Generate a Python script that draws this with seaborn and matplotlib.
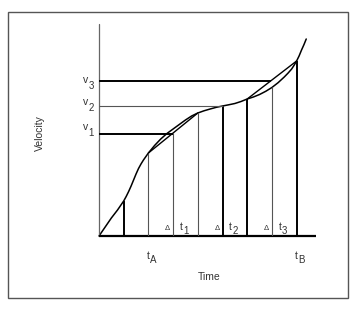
import matplotlib
matplotlib.use("Agg")
import matplotlib.pyplot as plt
import seaborn as sns
import pandas as pd
from matplotlib.patches import Rectangle

# ---- data ----
curve_x = [0, 0.25, 0.5, 0.75, 1.0, 1.1, 1.2, 1.3, 1.4, 1.5, 1.6, 1.7, 1.8, 1.9, 2.0,
           2.25, 2.5, 2.75, 3.0, 3.25, 3.5, 3.75, 4.0, 4.25, 4.5, 4.75, 5.0, 5.25, 5.5,
           5.75, 6.0, 6.25, 6.5, 6.75, 7.0, 7.25, 7.5, 7.65, 7.8, 7.9, 8.0, 8.1, 8.2, 8.3, 8.39]
curve_y = [0, 9, 18, 26, 35, 39.5, 44.5, 50, 56, 62, 67.5, 72, 76, 79.5, 83,
           90.5, 97, 102.5, 107, 111.5, 116, 120, 123, 125.2, 127, 128.7, 130, 131.2, 132.5,
           134.5, 137, 139, 141.5, 144.7, 148.5, 153.3, 159, 162.8, 167, 170.8, 175, 180, 186, 191.5, 197]

bar_x = [1, 2, 3, 4, 5, 6, 7, 8]
bar_h = [35, 83, 103, 123, 130, 137, 149, 175]
bar_bold = [True, False, False, False, True, True, False, True]

chord1_x = [2, 4]
chord1_y = [83, 123]
chord2_x = [6, 8]
chord2_y = [137, 175]

v_levels = [102, 130, 155]
v_ends = [3, 5, 6.95]
v_bold = [True, False, True]
v_labels = ["1", "2", "3"]
v_label_y = [106, 131, 153]

dt_x = [3, 5, 7]
dt_labels = ["1", "2", "3"]
t_ticks = [2, 8]
t_tick_labels = ["A", "B"]

sns.set_style("white")
plt.rcParams['font.family'] = ['Liberation Sans', 'DejaVu Sans']

W, H = 357, 310
fig = plt.figure(figsize=(W / 100, H / 100), dpi=100)
fig.patch.set_facecolor("white")

# outer frame
fig.add_artist(Rectangle((8 / W, 1 - 298 / H), 340 / W, 286 / H, transform=fig.transFigure,
                         fill=False, edgecolor="#555555", lw=1.0))

# axes placed so that origin is at px (99,236), 24.7 px per x unit, 1 px per y unit
x0, y0 = 99, 236
xu = 24.7
xmax, ymax = 8.8, 212
ax = fig.add_axes([x0 / W, (H - y0) / H, xmax * xu / W, ymax / H])

thin_c = "#555555"
txt_c = "#333333"

# curve
df = pd.DataFrame({"t": curve_x, "v": curve_y})
sns.lineplot(data=df, x="t", y="v", sort=False, color="black", lw=1.1, ax=ax, clip_on=False)
ax.set_xlim(0, xmax)
ax.set_ylim(0, ymax)
ax.axis("off")

# axes lines
ax.plot([0, 0], [0, ymax], color="#666666", lw=0.9, clip_on=False)
ax.plot([0, xmax], [0, 0], color="black", lw=1.6, clip_on=False, solid_capstyle="butt")

# vertical strips
for x, h, b in zip(bar_x, bar_h, bar_bold):
    ax.vlines(x, 0, h, color="black" if b else thin_c, lw=1.4 if b else 0.8)

# horizontal velocity lines
for lv, e, b in zip(v_levels, v_ends, v_bold):
    ax.hlines(lv, 0, e, color="black" if b else thin_c, lw=1.4 if b else 0.8)

# chords
ax.plot(chord1_x, chord1_y, color="black", lw=1.0)
ax.plot(chord2_x, chord2_y, color="black", lw=1.0)

fs = 7.5
sub_fs = 7.0


def sub_label(x, y, main, sub, main_fs=fs, ha_main="right", dy_main=2.0, dy_sub=-2.0):
    ax.annotate(main, (x, y), xytext=(0, dy_main), textcoords="offset points",
                ha="right", va="center", fontsize=main_fs, color=txt_c, annotation_clip=False)
    ax.annotate(sub, (x, y), xytext=(0.3, dy_sub), textcoords="offset points",
                ha="left", va="center", fontsize=sub_fs, color=txt_c, annotation_clip=False)


# v labels
for lab, ly in zip(v_labels, v_label_y):
    sub_label(-0.44, ly, "v", lab)

# delta t labels
for x, lab in zip(dt_x, dt_labels):
    ax.text(x - 0.12, 7.5, "Δ", ha="right", va="center", fontsize=5.5, color=txt_c)
    sub_label(x + 0.38, 7, "t", lab, dy_main=1.5, dy_sub=-1.5)

# t_A, t_B
for x, lab in zip(t_ticks, t_tick_labels):
    sub_label(x + 0.05, -22, "t", lab, dy_main=1.5, dy_sub=-1.5)

ax.text(4.45, -41, "Time", ha="center", va="center", fontsize=fs, color=txt_c, clip_on=False)
ax.text(-2.39, 103, "Velocity", ha="center", va="center", rotation=90,
        fontsize=fs, color=txt_c, clip_on=False)

fig.savefig("out.png", dpi=100)
